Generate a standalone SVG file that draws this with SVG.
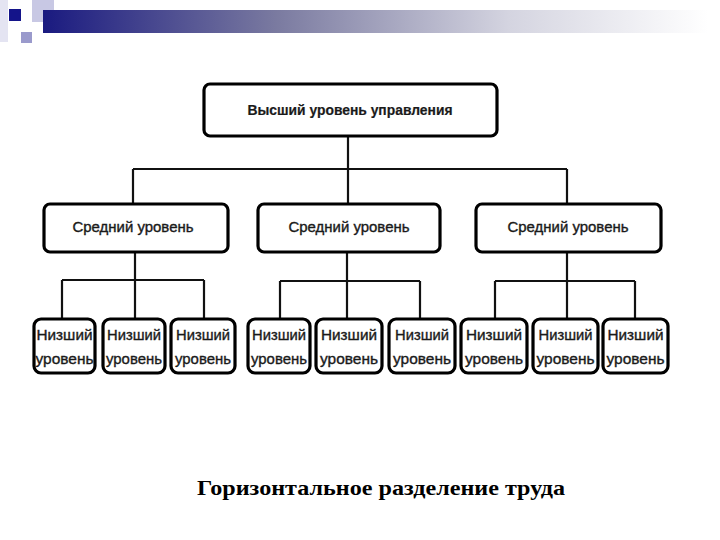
<svg xmlns="http://www.w3.org/2000/svg" width="720" height="540" viewBox="0 0 720 540">
<defs>
<linearGradient id="bar" x1="0" y1="0" x2="1" y2="0">
<stop offset="0" stop-color="#1a1a80"/>
<stop offset="0.35" stop-color="#7a7aa0"/>
<stop offset="0.7" stop-color="#d4d4e0"/>
<stop offset="1" stop-color="#ffffff"/>
</linearGradient>
</defs>
<style>
.box{fill:#fff;stroke:#000;stroke-width:3.2}
.edge{fill:none;stroke:#111;stroke-width:2.2}
.t{font-family:"Liberation Sans Narrow","Liberation Sans",Arial,sans-serif;fill:#1a1a1a;text-anchor:middle;stroke:#1a1a1a;stroke-width:0.35}
.top{font-size:14px;font-weight:bold;stroke-width:0.2}
.mid{font-size:14px}
.low{font-size:14.5px}
.cap{font-family:"Liberation Serif","Times New Roman",serif;font-size:21px;font-weight:bold;fill:#000;text-anchor:middle}
</style>
<rect width="720" height="540" fill="#fff"/>
<g id="header">
<rect x="0" y="0" width="8" height="42" fill="#e4e4f2"/>
<rect x="32" y="0" width="22" height="22" fill="#c8c8e4"/>
<rect x="43" y="10" width="665" height="23" fill="url(#bar)"/>
<rect x="9" y="9" width="12" height="12" fill="#14148a"/>
<rect x="21" y="32" width="11" height="11" fill="#9a9acc"/>
</g>
<g id="connectors">
<path class="edge" d="M348 137V169M133 169H567M133 169V203M348 169V203M567 169V203"/>
<path class="edge" d="M135 253V280M62 280H204M62 280V318M135 280V318M204 280V318"/>
<path class="edge" d="M347 253V281M280 281H420M280 281V318M347 281V318M420 281V318"/>
<path class="edge" d="M567 253V281M495 281H635M495 281V318M567 281V318M635 281V318"/>
</g>
<g id="top">
<rect class="box" x="204" y="84" width="293" height="52" rx="6"/>
<text class="t top" x="350" y="115" textLength="205" lengthAdjust="spacingAndGlyphs">Высший уровень управления</text>
</g>
<g id="mid1">
<rect class="box" x="44" y="204" width="184" height="48" rx="6"/>
<text class="t mid" x="133" y="232" textLength="121" lengthAdjust="spacingAndGlyphs">Средний уровень</text>
</g>
<g id="mid2">
<rect class="box" x="258" y="204" width="182" height="48" rx="6"/>
<text class="t mid" x="349" y="232" textLength="121" lengthAdjust="spacingAndGlyphs">Средний уровень</text>
</g>
<g id="mid3">
<rect class="box" x="476" y="204" width="185" height="48" rx="6"/>
<text class="t mid" x="568" y="232" textLength="121" lengthAdjust="spacingAndGlyphs">Средний уровень</text>
</g>
<g id="low1"><rect class="box" x="34" y="319" width="61" height="54" rx="7"/><text class="t low" x="64.5" y="340" textLength="56" lengthAdjust="spacingAndGlyphs">Низший</text><text class="t low" x="64.5" y="364" textLength="58" lengthAdjust="spacingAndGlyphs">уровень</text></g>
<g id="low2"><rect class="box" x="103" y="319" width="62" height="54" rx="7"/><text class="t low" x="134" y="340" textLength="54" lengthAdjust="spacingAndGlyphs">Низший</text><text class="t low" x="134" y="364" textLength="56" lengthAdjust="spacingAndGlyphs">уровень</text></g>
<g id="low3"><rect class="box" x="171" y="319" width="64" height="54" rx="7"/><text class="t low" x="203" y="340" textLength="54" lengthAdjust="spacingAndGlyphs">Низший</text><text class="t low" x="203" y="364" textLength="56" lengthAdjust="spacingAndGlyphs">уровень</text></g>
<g id="low4"><rect class="box" x="248" y="319" width="62" height="54" rx="7"/><text class="t low" x="279" y="340" textLength="54" lengthAdjust="spacingAndGlyphs">Низший</text><text class="t low" x="279" y="364" textLength="56" lengthAdjust="spacingAndGlyphs">уровень</text></g>
<g id="low5"><rect class="box" x="316" y="319" width="66" height="54" rx="7"/><text class="t low" x="349" y="340" textLength="56" lengthAdjust="spacingAndGlyphs">Низший</text><text class="t low" x="349" y="364" textLength="58" lengthAdjust="spacingAndGlyphs">уровень</text></g>
<g id="low6"><rect class="box" x="389" y="319" width="66" height="54" rx="7"/><text class="t low" x="422" y="340" textLength="54" lengthAdjust="spacingAndGlyphs">Низший</text><text class="t low" x="422" y="364" textLength="58" lengthAdjust="spacingAndGlyphs">уровень</text></g>
<g id="low7"><rect class="box" x="461" y="319" width="66" height="54" rx="7"/><text class="t low" x="494" y="340" textLength="56" lengthAdjust="spacingAndGlyphs">Низший</text><text class="t low" x="494" y="364" textLength="58" lengthAdjust="spacingAndGlyphs">уровень</text></g>
<g id="low8"><rect class="box" x="533" y="319" width="65" height="54" rx="7"/><text class="t low" x="565.5" y="340" textLength="54" lengthAdjust="spacingAndGlyphs">Низший</text><text class="t low" x="565.5" y="364" textLength="58" lengthAdjust="spacingAndGlyphs">уровень</text></g>
<g id="low9"><rect class="box" x="603" y="319" width="65" height="54" rx="7"/><text class="t low" x="635.5" y="340" textLength="56" lengthAdjust="spacingAndGlyphs">Низший</text><text class="t low" x="635.5" y="364" textLength="58" lengthAdjust="spacingAndGlyphs">уровень</text></g>
<text class="cap" x="381" y="495" textLength="368" lengthAdjust="spacingAndGlyphs">Горизонтальное разделение труда</text>
</svg>
